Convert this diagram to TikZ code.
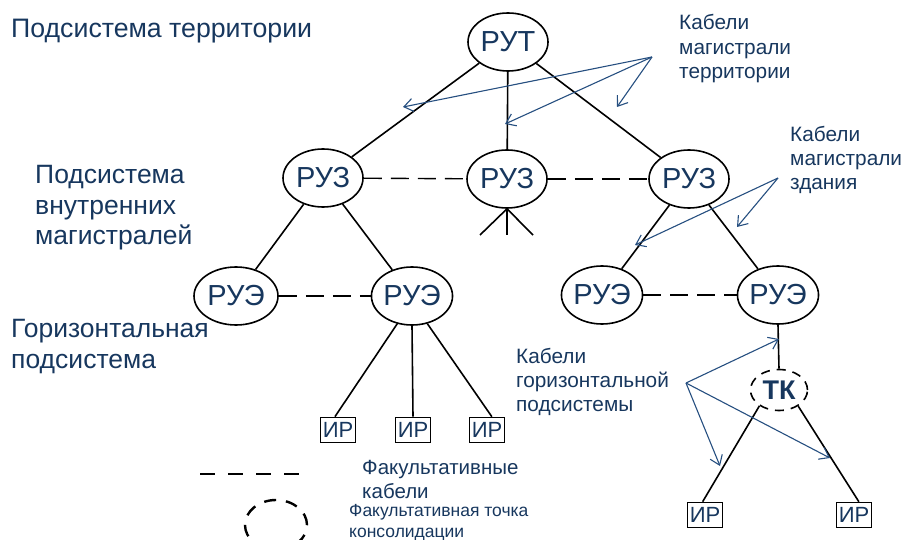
\documentclass[tikz,border=0pt]{standalone}
\usepackage{fontspec}
\setmainfont{Liberation Sans}
\usetikzlibrary{shapes.geometric,arrows.meta}
\definecolor{txtblue}{RGB}{23,55,94}
\definecolor{arrblue}{RGB}{38,79,128}
\tikzset{
  dev/.style={ellipse,draw=black,line width=1.6pt,minimum width=80pt,minimum height=58pt,inner sep=0pt,text=txtblue,font=\fontsize{29}{30}\selectfont},
  tk/.style={ellipse,draw=black,line width=1.6pt,dash pattern=on 9pt off 7pt,minimum width=57pt,minimum height=41pt,inner sep=0pt,text=txtblue,font=\bfseries\fontsize{27}{28}\selectfont},
  ir/.style={rectangle,draw=black,line width=1.6pt,minimum width=35pt,minimum height=25pt,inner sep=0pt,text=txtblue,font=\fontsize{22}{22}\selectfont},
  cable/.style={line width=1.6pt,draw=black},
  opt/.style={line width=1.4pt,draw=black,dash pattern=on 18pt off 9pt},
  ptr/.style={draw=arrblue,line width=1.1pt,-{Straight Barb[length=9pt,width=13pt,line width=1.1pt]}},
  lbl/.style={anchor=west,align=left,inner sep=0pt,text=txtblue},
}
\begin{document}
\begin{tikzpicture}[x=1pt,y=-1pt]
\useasboundingbox (0,0) rectangle (905,540);
% devices
\node[dev] (rut) at (508,42) {РУТ};
\node[dev] (ruz1) at (323,178) {РУЗ};
\node[dev] (ruz2) at (507,179) {РУЗ};
\node[dev] (ruz3) at (689,179) {РУЗ};
\node[dev,minimum width=84pt] (rue1) at (236,296) {РУЭ};
\node[dev] (rue2) at (412,296) {РУЭ};
\node[dev] (rue3) at (602,295) {РУЭ};
\node[dev] (rue4) at (778,295) {РУЭ};
\node[tk] (tk) at (779,390) {ТК};
\node[ir] (ir1) at (338,430) {ИР};
\node[ir] (ir2) at (413,430) {ИР};
\node[ir] (ir3) at (487,430) {ИР};
\node[ir] (ir4) at (705,515) {ИР};
\node[ir] (ir5) at (854,515) {ИР};
% backbone cables
\draw[cable] (rut) -- (ruz1);
\draw[cable] (rut) -- (ruz2);
\draw[cable] (rut) -- (ruz3);
\draw[cable] (ruz1) -- (rue1);
\draw[cable] (ruz1) -- (rue2);
\draw[cable] (ruz3) -- (rue3);
\draw[cable] (ruz3) -- (rue4);
\coordinate (st1) at (480,235);
\coordinate (st2) at (507,235);
\coordinate (st3) at (533,235);
\draw[cable] (ruz2.south) -- (st1);
\draw[cable] (ruz2.south) -- (st2);
\draw[cable] (ruz2.south) -- (st3);
% horizontal cables
\draw[cable] (rue2.242) -- (ir1.103);
\draw[cable] (rue2.south) -- (ir2.north);
\draw[cable] (rue2.299) -- (ir3.70);
\draw[cable] (rue4.south) -- (tk.north);
\draw[cable] (tk.219) -- (ir4.100);
\draw[cable] (tk.320) -- (ir5.70);
% optional cables
\draw[opt] (ruz1) -- (ruz2);
\draw[opt] (ruz2) -- (ruz3);
\draw[opt] (rue1) -- (rue2);
\draw[opt] (rue3) -- (rue4);
% pointer arrows
\coordinate (p1) at (652,57);
\coordinate (t11) at (403,107);
\coordinate (t12) at (505,124);
\coordinate (t13) at (617,107);
\draw[ptr] (p1) -- (t11);
\draw[ptr] (p1) -- (t12);
\draw[ptr] (p1) -- (t13);
\coordinate (p2) at (778,178);
\coordinate (t21) at (635,245);
\coordinate (t22) at (737,227);
\draw[ptr] (p2) -- (t21);
\draw[ptr] (p2) -- (t22);
\coordinate (p3) at (686,383);
\coordinate (t31) at (779,339);
\coordinate (t32) at (720,466);
\coordinate (t33) at (830,458);
\draw[ptr] (p3) -- (t31);
\draw[ptr] (p3) -- (t32);
\draw[ptr] (p3) -- (t33);
% labels
\node[lbl,font=\fontsize{26.7}{30}\selectfont] (l1) at (11,31) {Подсистема территории};
\node[lbl,font=\fontsize{26.5}{30.5}\selectfont] (l2) at (35,208) {Подсистема\\внутренних\\магистралей};
\node[lbl,font=\fontsize{26.5}{31}\selectfont] (l3) at (11,347) {Горизонтальная\\подсистема};
\node[lbl,font=\fontsize{20.8}{24.5}\selectfont] (l4) at (679,49) {Кабели\\магистрали\\территории};
\node[lbl,font=\fontsize{20.8}{24}\selectfont] (l5) at (790,160) {Кабели\\магистрали\\здания};
\node[lbl,font=\fontsize{20.8}{24}\selectfont] (l6) at (516,382) {Кабели\\горизонтальной\\подсистемы};
% legend
\coordinate (lg1) at (200,474);
\coordinate (lg2) at (300,474);
\draw[line width=2.6pt,dash pattern=on 15pt off 13pt] (lg1) -- (lg2);
\node[lbl,font=\fontsize{20.5}{24}\selectfont] (l7) at (362,479) {Факультативные\\кабели};
\node[ellipse,draw=black,line width=2.4pt,dash pattern=on 12pt off 10pt,minimum width=62pt,minimum height=50pt] (lgE) at (276,525) {};
\node[lbl,font=\fontsize{17.5}{21}\selectfont] (l8) at (349,523) {Факультативная точка\\консолидации};
\end{tikzpicture}
\end{document}
